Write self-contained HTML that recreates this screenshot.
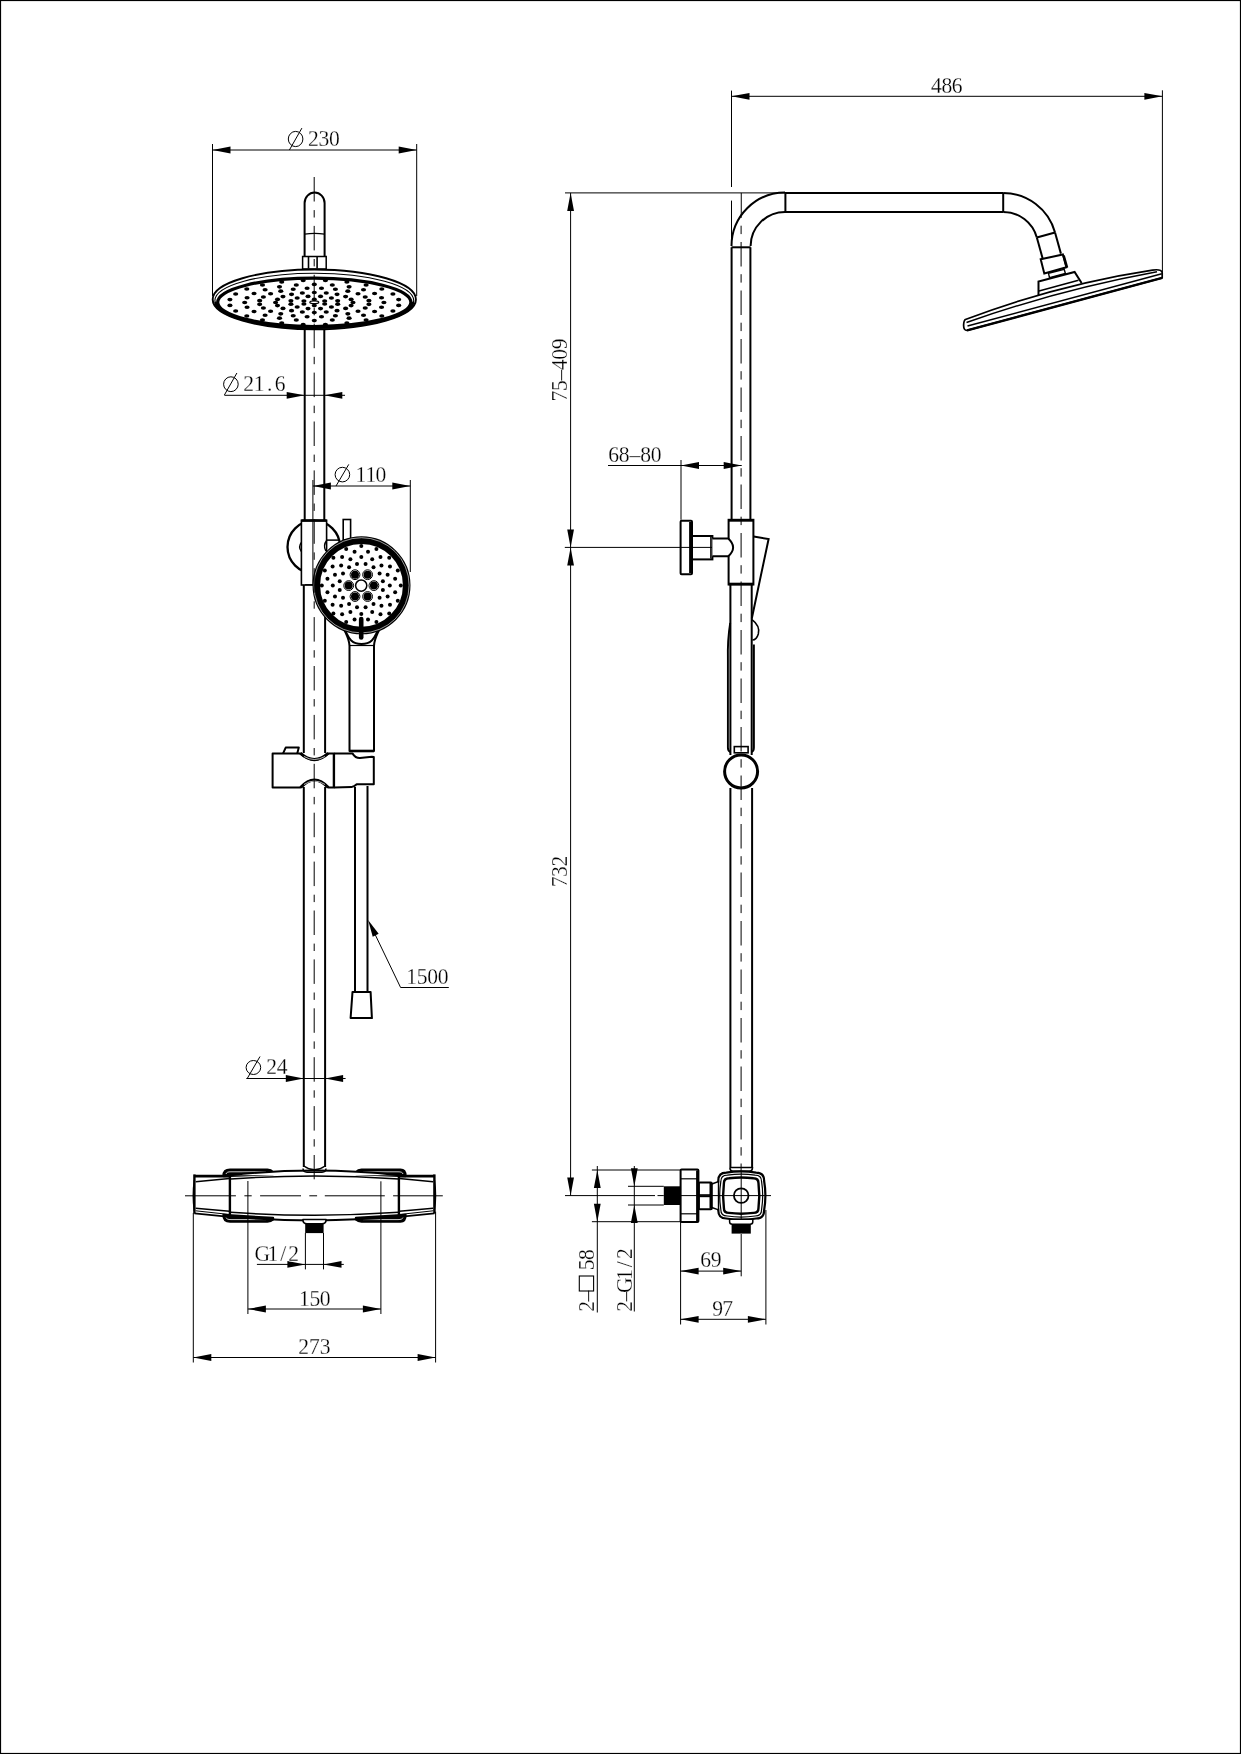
<!DOCTYPE html>
<html><head><meta charset="utf-8"><style>
html,body{margin:0;padding:0;background:#fff;}
svg{display:block;filter:grayscale(100%);}
text{font-family:"Liberation Serif", serif;fill:#000;stroke:#fff;stroke-width:0.25px;}
</style></head><body>
<svg width="1241" height="1754" viewBox="0 0 1241 1754">
<rect width="1241" height="1754" fill="#fff"/>
<rect x="0.55" y="0.55" width="1239.9" height="1752.9" fill="none" stroke="#000" stroke-width="1.1"/>
<line x1="212.5" y1="144" x2="212.5" y2="296" stroke="#000" stroke-width="1.0" />
<line x1="416.7" y1="144" x2="416.7" y2="296" stroke="#000" stroke-width="1.0" />
<line x1="212.5" y1="150" x2="416.7" y2="150" stroke="#000" stroke-width="1.0" />
<path d="M212.5 150 L230.5 146.6 L230.5 153.4 Z" fill="#000"/>
<path d="M416.7 150 L398.7 153.4 L398.7 146.6 Z" fill="#000"/>
<ellipse cx="295.6" cy="139" rx="7.3" ry="7.6" fill="none" stroke="#000" stroke-width="1.0"/>
<line x1="289.4" y1="150" x2="301.9" y2="128.1" stroke="#000" stroke-width="1.0" />
<text x="340.76 352.07 363.37" y="146.3" font-size="23.5" text-anchor="middle" transform="scale(0.92,1)">230</text>
<path d="M304.6 256.5 L304.6 203 A10 10.5 0 0 1 324.6 203 L324.6 256.5" fill="none" stroke="#000" stroke-width="2.0" stroke-linejoin="round" />
<path d="M304.6 234.2 Q314.6 232.4 324.6 234.2" fill="none" stroke="#000" stroke-width="1.3" stroke-linejoin="round" />
<rect x="302.6" y="256.5" width="23.6" height="12.5" rx="0" fill="#fff" stroke="#000" stroke-width="1.5"/>
<line x1="308.5" y1="257" x2="308.5" y2="268.5" stroke="#000" stroke-width="1.6" />
<line x1="317.1" y1="257" x2="317.1" y2="268.5" stroke="#000" stroke-width="1.6" />
<ellipse cx="314.3" cy="299.4" rx="101.6" ry="29.9" fill="#fff" stroke="#000" stroke-width="1.9"/>
<ellipse cx="314.3" cy="300.6" rx="99.4" ry="27.4" fill="none" stroke="#000" stroke-width="1.1"/>
<path d="M215.5 301.8 A98.8 26.0 0 0 0 413.1 301.8" fill="none" stroke="#000" stroke-width="2.4" stroke-linejoin="round" />
<ellipse cx="314.3" cy="302.3" rx="96.6" ry="24.2" fill="none" stroke="#000" stroke-width="3.2"/>
<g fill="#000"><ellipse cx="324.69" cy="304.06" rx="2.6" ry="1.8"/><ellipse cx="314.3" cy="305.62" rx="2.6" ry="1.8"/><ellipse cx="303.91" cy="304.06" rx="2.6" ry="1.8"/><ellipse cx="303.91" cy="300.94" rx="2.6" ry="1.8"/><ellipse cx="314.3" cy="299.38" rx="2.6" ry="1.8"/><ellipse cx="324.69" cy="300.94" rx="2.6" ry="1.8"/><ellipse cx="337.68" cy="304.13" rx="2.6" ry="1.8"/><ellipse cx="331.41" cy="306.95" rx="2.6" ry="1.8"/><ellipse cx="320.56" cy="308.58" rx="2.6" ry="1.8"/><ellipse cx="308.04" cy="308.58" rx="2.6" ry="1.8"/><ellipse cx="297.19" cy="306.95" rx="2.6" ry="1.8"/><ellipse cx="290.92" cy="304.13" rx="2.6" ry="1.8"/><ellipse cx="290.92" cy="300.87" rx="2.6" ry="1.8"/><ellipse cx="297.19" cy="298.05" rx="2.6" ry="1.8"/><ellipse cx="308.04" cy="296.42" rx="2.6" ry="1.8"/><ellipse cx="320.56" cy="296.42" rx="2.6" ry="1.8"/><ellipse cx="331.41" cy="298.05" rx="2.6" ry="1.8"/><ellipse cx="337.68" cy="300.87" rx="2.6" ry="1.8"/><ellipse cx="353" cy="302.5" rx="2.6" ry="1.8"/><ellipse cx="351.11" cy="305.61" rx="2.6" ry="1.8"/><ellipse cx="345.61" cy="308.41" rx="2.6" ry="1.8"/><ellipse cx="337.05" cy="310.64" rx="2.6" ry="1.8"/><ellipse cx="326.26" cy="312.07" rx="2.6" ry="1.8"/><ellipse cx="314.3" cy="312.56" rx="2.6" ry="1.8"/><ellipse cx="302.34" cy="312.07" rx="2.6" ry="1.8"/><ellipse cx="291.55" cy="310.64" rx="2.6" ry="1.8"/><ellipse cx="282.99" cy="308.41" rx="2.6" ry="1.8"/><ellipse cx="277.49" cy="305.61" rx="2.6" ry="1.8"/><ellipse cx="275.6" cy="302.5" rx="2.6" ry="1.8"/><ellipse cx="277.49" cy="299.39" rx="2.6" ry="1.8"/><ellipse cx="282.99" cy="296.59" rx="2.6" ry="1.8"/><ellipse cx="291.55" cy="294.36" rx="2.6" ry="1.8"/><ellipse cx="302.34" cy="292.93" rx="2.6" ry="1.8"/><ellipse cx="314.3" cy="292.44" rx="2.6" ry="1.8"/><ellipse cx="326.26" cy="292.93" rx="2.6" ry="1.8"/><ellipse cx="337.05" cy="294.36" rx="2.6" ry="1.8"/><ellipse cx="345.61" cy="296.59" rx="2.6" ry="1.8"/><ellipse cx="351.11" cy="299.39" rx="2.6" ry="1.8"/><ellipse cx="368.93" cy="304.37" rx="2.6" ry="1.8"/><ellipse cx="365.21" cy="307.98" rx="2.6" ry="1.8"/><ellipse cx="358.01" cy="311.22" rx="2.6" ry="1.8"/><ellipse cx="347.84" cy="313.87" rx="2.6" ry="1.8"/><ellipse cx="335.39" cy="315.74" rx="2.6" ry="1.8"/><ellipse cx="321.49" cy="316.7" rx="2.6" ry="1.8"/><ellipse cx="307.11" cy="316.7" rx="2.6" ry="1.8"/><ellipse cx="293.21" cy="315.74" rx="2.6" ry="1.8"/><ellipse cx="280.76" cy="313.87" rx="2.6" ry="1.8"/><ellipse cx="270.59" cy="311.22" rx="2.6" ry="1.8"/><ellipse cx="263.39" cy="307.98" rx="2.6" ry="1.8"/><ellipse cx="259.67" cy="304.37" rx="2.6" ry="1.8"/><ellipse cx="259.67" cy="300.63" rx="2.6" ry="1.8"/><ellipse cx="263.39" cy="297.02" rx="2.6" ry="1.8"/><ellipse cx="270.59" cy="293.78" rx="2.6" ry="1.8"/><ellipse cx="280.76" cy="291.13" rx="2.6" ry="1.8"/><ellipse cx="293.21" cy="289.26" rx="2.6" ry="1.8"/><ellipse cx="307.11" cy="288.3" rx="2.6" ry="1.8"/><ellipse cx="321.49" cy="288.3" rx="2.6" ry="1.8"/><ellipse cx="335.39" cy="289.26" rx="2.6" ry="1.8"/><ellipse cx="347.84" cy="291.13" rx="2.6" ry="1.8"/><ellipse cx="358.01" cy="293.78" rx="2.6" ry="1.8"/><ellipse cx="365.21" cy="297.02" rx="2.6" ry="1.8"/><ellipse cx="368.93" cy="300.63" rx="2.6" ry="1.8"/><ellipse cx="383.9" cy="302.5" rx="2.6" ry="1.8"/><ellipse cx="381.53" cy="307.18" rx="2.6" ry="1.8"/><ellipse cx="374.58" cy="311.55" rx="2.6" ry="1.8"/><ellipse cx="363.51" cy="315.3" rx="2.6" ry="1.8"/><ellipse cx="349.1" cy="318.17" rx="2.6" ry="1.8"/><ellipse cx="332.31" cy="319.98" rx="2.6" ry="1.8"/><ellipse cx="314.3" cy="320.6" rx="2.6" ry="1.8"/><ellipse cx="296.29" cy="319.98" rx="2.6" ry="1.8"/><ellipse cx="279.5" cy="318.17" rx="2.6" ry="1.8"/><ellipse cx="265.09" cy="315.3" rx="2.6" ry="1.8"/><ellipse cx="254.02" cy="311.55" rx="2.6" ry="1.8"/><ellipse cx="247.07" cy="307.18" rx="2.6" ry="1.8"/><ellipse cx="244.7" cy="302.5" rx="2.6" ry="1.8"/><ellipse cx="247.07" cy="297.82" rx="2.6" ry="1.8"/><ellipse cx="254.02" cy="293.45" rx="2.6" ry="1.8"/><ellipse cx="265.09" cy="289.7" rx="2.6" ry="1.8"/><ellipse cx="279.5" cy="286.83" rx="2.6" ry="1.8"/><ellipse cx="296.29" cy="285.02" rx="2.6" ry="1.8"/><ellipse cx="314.3" cy="284.4" rx="2.6" ry="1.8"/><ellipse cx="332.31" cy="285.02" rx="2.6" ry="1.8"/><ellipse cx="349.1" cy="286.83" rx="2.6" ry="1.8"/><ellipse cx="363.51" cy="289.7" rx="2.6" ry="1.8"/><ellipse cx="374.58" cy="293.45" rx="2.6" ry="1.8"/><ellipse cx="381.53" cy="297.82" rx="2.6" ry="1.8"/><ellipse cx="398.67" cy="305.39" rx="2.6" ry="1.8"/><ellipse cx="392.92" cy="310.97" rx="2.6" ry="1.8"/><ellipse cx="381.81" cy="315.97" rx="2.6" ry="1.8"/><ellipse cx="366.11" cy="320.05" rx="2.6" ry="1.8"/><ellipse cx="346.87" cy="322.94" rx="2.6" ry="1.8"/><ellipse cx="325.41" cy="324.44" rx="2.6" ry="1.8"/><ellipse cx="303.19" cy="324.44" rx="2.6" ry="1.8"/><ellipse cx="281.73" cy="322.94" rx="2.6" ry="1.8"/><ellipse cx="262.49" cy="320.05" rx="2.6" ry="1.8"/><ellipse cx="246.79" cy="315.97" rx="2.6" ry="1.8"/><ellipse cx="235.68" cy="310.97" rx="2.6" ry="1.8"/><ellipse cx="229.93" cy="305.39" rx="2.6" ry="1.8"/><ellipse cx="229.93" cy="299.61" rx="2.6" ry="1.8"/><ellipse cx="235.68" cy="294.03" rx="2.6" ry="1.8"/><ellipse cx="246.79" cy="289.03" rx="2.6" ry="1.8"/><ellipse cx="262.49" cy="284.95" rx="2.6" ry="1.8"/><ellipse cx="281.73" cy="282.06" rx="2.6" ry="1.8"/><ellipse cx="303.19" cy="280.56" rx="2.6" ry="1.8"/><ellipse cx="325.41" cy="280.56" rx="2.6" ry="1.8"/><ellipse cx="346.87" cy="282.06" rx="2.6" ry="1.8"/><ellipse cx="366.11" cy="284.95" rx="2.6" ry="1.8"/><ellipse cx="381.81" cy="289.03" rx="2.6" ry="1.8"/><ellipse cx="392.92" cy="294.03" rx="2.6" ry="1.8"/><ellipse cx="398.67" cy="299.61" rx="2.6" ry="1.8"/></g>
<ellipse cx="314.3" cy="302.3" rx="4.5" ry="1.4" fill="none" stroke="#000" stroke-width="1.2"/>
<line x1="304.7" y1="330" x2="304.7" y2="520" stroke="#000" stroke-width="2.0" />
<line x1="324.3" y1="330" x2="324.3" y2="520" stroke="#000" stroke-width="2.0" />
<line x1="303.8" y1="585" x2="303.8" y2="753" stroke="#000" stroke-width="2.0" />
<line x1="325.1" y1="585" x2="325.1" y2="753" stroke="#000" stroke-width="2.0" />
<line x1="303.8" y1="787" x2="303.8" y2="1167" stroke="#000" stroke-width="2.0" />
<line x1="325.1" y1="787" x2="325.1" y2="1167" stroke="#000" stroke-width="2.0" />
<path d="M303.8 1166 Q314.5 1173.5 325.1 1166" fill="none" stroke="#000" stroke-width="1.3" stroke-linejoin="round" />
<line x1="224.4" y1="395.3" x2="345" y2="395.3" stroke="#000" stroke-width="1.0" />
<path d="M304.7 395.3 L286.7 398.7 L286.7 391.9 Z" fill="#000"/>
<path d="M324.3 395.3 L342.3 391.9 L342.3 398.7 Z" fill="#000"/>
<ellipse cx="230.9" cy="384.2" rx="7.3" ry="7.4" fill="none" stroke="#000" stroke-width="1.0"/>
<line x1="224.4" y1="395" x2="236.9" y2="373" stroke="#000" stroke-width="1.0" />
<text x="270.19 281.66 293.12 304.59" y="391.5" font-size="23.5" text-anchor="middle" transform="scale(0.92,1)">21.6</text>
<circle cx="313.8" cy="547" r="26.3" fill="#fff" stroke="#000" stroke-width="2.3"/>
<rect x="301.4" y="520.3" width="25.2" height="64.7" rx="0" fill="#fff" stroke="#000" stroke-width="1.6"/>
<line x1="301.4" y1="520.6" x2="326.6" y2="520.6" stroke="#000" stroke-width="2.6" />
<path d="M301.4 542.5 Q297.8 547 301.4 551.5" fill="none" stroke="#000" stroke-width="1.4" stroke-linejoin="round" />
<path d="M326.6 540.5 Q322.8 545.5 325.8 551" fill="none" stroke="#000" stroke-width="1.4" stroke-linejoin="round" />
<line x1="326.6" y1="540.1" x2="338.8" y2="540.1" stroke="#000" stroke-width="1.5" />
<rect x="343.2" y="519.5" width="7.4" height="20.5" rx="0" fill="#fff" stroke="#000" stroke-width="1.6"/>
<line x1="312.9" y1="480" x2="312.9" y2="585" stroke="#000" stroke-width="1.0" />
<line x1="410.3" y1="480" x2="410.3" y2="572" stroke="#000" stroke-width="1.0" />
<line x1="312.9" y1="486" x2="410.3" y2="486" stroke="#000" stroke-width="1.0" />
<path d="M312.9 486 L330.9 482.6 L330.9 489.4 Z" fill="#000"/>
<path d="M410.3 486 L392.3 489.4 L392.3 482.6 Z" fill="#000"/>
<ellipse cx="342.4" cy="474.6" rx="7.3" ry="7.3" fill="none" stroke="#000" stroke-width="1.0"/>
<line x1="336" y1="486" x2="348.75" y2="464.4" stroke="#000" stroke-width="1.0" />
<text x="392.21 403.15 414.09" y="481.9" font-size="23.5" text-anchor="middle" transform="scale(0.92,1)">110</text>
<line x1="305" y1="584.7" x2="313" y2="584.7" stroke="#000" stroke-width="1.2" />
<path d="M344 629 C347 636 349.5 640 349.5 646 L349.5 751 L374 751 L374 646 C374 640 376.5 636 379.5 629 Z" fill="#fff" stroke="#000" stroke-width="2.0" stroke-linejoin="round" />
<line x1="349.5" y1="751" x2="374" y2="751" stroke="#000" stroke-width="2.6" />
<path d="M344.5 629.5 C348 635 349 644 361.5 644 C374 644 375 635 378.5 629.5" fill="none" stroke="#000" stroke-width="2.0" stroke-linejoin="round" />
<line x1="349.5" y1="645.5" x2="374" y2="645.5" stroke="#000" stroke-width="1.2" />
<circle cx="361.5" cy="585.3" r="45.2" fill="#fff" stroke="#000" stroke-width="7.6"/>
<circle cx="361.5" cy="585.3" r="47.6" fill="none" stroke="#fff" stroke-width="0.6"/>
<g fill="#000"><circle cx="365.59" cy="564.02" r="2.0"/><circle cx="373.52" cy="567.31" r="2.0"/><circle cx="379.59" cy="573.38" r="2.0"/><circle cx="382.88" cy="581.31" r="2.0"/><circle cx="382.88" cy="589.89" r="2.0"/><circle cx="379.59" cy="597.82" r="2.0"/><circle cx="373.52" cy="603.89" r="2.0"/><circle cx="365.59" cy="607.18" r="2.0"/><circle cx="357.01" cy="607.18" r="2.0"/><circle cx="349.08" cy="603.89" r="2.0"/><circle cx="343.01" cy="597.82" r="2.0"/><circle cx="339.72" cy="589.89" r="2.0"/><circle cx="339.72" cy="581.31" r="2.0"/><circle cx="343.01" cy="573.38" r="2.0"/><circle cx="349.08" cy="567.31" r="2.0"/><circle cx="357.01" cy="564.02" r="2.0"/><circle cx="361.3" cy="557.1" r="2.0"/><circle cx="372.21" cy="559.27" r="2.0"/><circle cx="381.45" cy="565.45" r="2.0"/><circle cx="387.63" cy="574.69" r="2.0"/><circle cx="389.8" cy="585.6" r="2.0"/><circle cx="387.63" cy="596.51" r="2.0"/><circle cx="381.45" cy="605.75" r="2.0"/><circle cx="372.21" cy="611.93" r="2.0"/><circle cx="361.3" cy="614.1" r="2.0"/><circle cx="350.39" cy="611.93" r="2.0"/><circle cx="341.15" cy="605.75" r="2.0"/><circle cx="334.97" cy="596.51" r="2.0"/><circle cx="332.8" cy="585.6" r="2.0"/><circle cx="334.97" cy="574.69" r="2.0"/><circle cx="341.15" cy="565.45" r="2.0"/><circle cx="350.39" cy="559.27" r="2.0"/><circle cx="368.03" cy="551.76" r="2.0"/><circle cx="380.47" cy="556.91" r="2.0"/><circle cx="389.99" cy="566.43" r="2.0"/><circle cx="395.14" cy="578.87" r="2.0"/><circle cx="395.14" cy="592.33" r="2.0"/><circle cx="389.99" cy="604.77" r="2.0"/><circle cx="380.47" cy="614.29" r="2.0"/><circle cx="368.03" cy="619.44" r="2.0"/><circle cx="354.57" cy="619.44" r="2.0"/><circle cx="342.13" cy="614.29" r="2.0"/><circle cx="332.61" cy="604.77" r="2.0"/><circle cx="327.46" cy="592.33" r="2.0"/><circle cx="327.46" cy="578.87" r="2.0"/><circle cx="332.61" cy="566.43" r="2.0"/><circle cx="342.13" cy="556.91" r="2.0"/><circle cx="354.57" cy="551.76" r="2.0"/><circle cx="361.3" cy="546.1" r="2.0"/><circle cx="376.42" cy="549.11" r="2.0"/><circle cx="389.23" cy="557.67" r="2.0"/><circle cx="397.79" cy="570.48" r="2.0"/><circle cx="400.8" cy="585.6" r="2.0"/><circle cx="397.79" cy="600.72" r="2.0"/><circle cx="389.23" cy="613.53" r="2.0"/><circle cx="376.42" cy="622.09" r="2.0"/><circle cx="346.18" cy="622.09" r="2.0"/><circle cx="333.37" cy="613.53" r="2.0"/><circle cx="324.81" cy="600.72" r="2.0"/><circle cx="321.8" cy="585.6" r="2.0"/><circle cx="324.81" cy="570.48" r="2.0"/><circle cx="333.37" cy="557.67" r="2.0"/><circle cx="346.18" cy="549.11" r="2.0"/></g>
<circle cx="373.9" cy="585.6" r="4.9" fill="#fff" stroke="#000" stroke-width="1.0"/>
<circle cx="373.9" cy="585.6" r="4" fill="#000" stroke="#000" stroke-width="0"/>
<circle cx="367.6" cy="596.51" r="4.9" fill="#fff" stroke="#000" stroke-width="1.0"/>
<circle cx="367.6" cy="596.51" r="4" fill="#000" stroke="#000" stroke-width="0"/>
<circle cx="355" cy="596.51" r="4.9" fill="#fff" stroke="#000" stroke-width="1.0"/>
<circle cx="355" cy="596.51" r="4" fill="#000" stroke="#000" stroke-width="0"/>
<circle cx="348.7" cy="585.6" r="4.9" fill="#fff" stroke="#000" stroke-width="1.0"/>
<circle cx="348.7" cy="585.6" r="4" fill="#000" stroke="#000" stroke-width="0"/>
<circle cx="355" cy="574.69" r="4.9" fill="#fff" stroke="#000" stroke-width="1.0"/>
<circle cx="355" cy="574.69" r="4" fill="#000" stroke="#000" stroke-width="0"/>
<circle cx="367.6" cy="574.69" r="4.9" fill="#fff" stroke="#000" stroke-width="1.0"/>
<circle cx="367.6" cy="574.69" r="4" fill="#000" stroke="#000" stroke-width="0"/>
<circle cx="361.2" cy="585.6" r="5.6" fill="#fff" stroke="#000" stroke-width="1.5"/>
<line x1="361.2" y1="619" x2="361.2" y2="637.5" stroke="#000" stroke-width="4.6" stroke-linecap="round"/>
<path d="M272.6 753.6 L300.3 753.6 Q314.4 766 328.3 753.6 L333.8 753.6 L333.8 787.4 L328.3 787.4 Q314.4 772.4 300.6 787.4 L272.6 787.4 Z" fill="#fff" stroke="#000" stroke-width="2.0" stroke-linejoin="round" />
<path d="M300.3 753.2 Q314.4 766 328.3 753.2" fill="none" stroke="#000" stroke-width="3.0" stroke-linejoin="round" />
<path d="M300.6 787.6 Q314.4 772.4 328.3 787.6" fill="none" stroke="#000" stroke-width="3.0" stroke-linejoin="round" />
<path d="M304 756.5 Q314.4 762.5 325 756.5" fill="none" stroke="#fff" stroke-width="0.7" stroke-linejoin="round" />
<path d="M304 784.5 Q314.4 777.5 325 784.5" fill="none" stroke="#fff" stroke-width="0.7" stroke-linejoin="round" />
<path d="M283.1 753.4 L285.7 747.6 L298.8 747.6 L297.3 753.2" fill="none" stroke="#000" stroke-width="2.0" stroke-linejoin="round" />
<path d="M334 753.6 L352.6 753.6 Q355.5 758.2 360 758 L371.8 756.7 L373.8 757 L373.8 784.3 L356.7 784.3 Q354 786.9 351.6 786.9 L334 787.4" fill="#fff" stroke="#000" stroke-width="2.0" stroke-linejoin="round" />
<line x1="334" y1="753.6" x2="334" y2="787.4" stroke="#000" stroke-width="2.2" />
<line x1="355" y1="787" x2="355" y2="991.5" stroke="#000" stroke-width="2.0" />
<line x1="367.5" y1="786" x2="367.5" y2="991.5" stroke="#000" stroke-width="2.0" />
<path d="M352.5 991.9 L370.6 991.9 L371.9 1018.1 L350.6 1018.1 Z" fill="#fff" stroke="#000" stroke-width="2.0" stroke-linejoin="round" />
<path d="M368.1 920 L378.65 933.73 L372.75 936.68 Z" fill="#000"/>
<path d="M372 928 L400.6 987.5 L448.8 987.5" fill="none" stroke="#000" stroke-width="1.0" stroke-linejoin="round" />
<text x="447.55 458.97 470.38 481.79" y="983.8" font-size="23.5" text-anchor="middle" transform="scale(0.92,1)">1500</text>
<line x1="246.3" y1="1078.5" x2="345.6" y2="1078.5" stroke="#000" stroke-width="1.0" />
<path d="M303.8 1078.5 L285.8 1081.9 L285.8 1075.1 Z" fill="#000"/>
<path d="M325.1 1078.5 L343.1 1075.1 L343.1 1081.9 Z" fill="#000"/>
<ellipse cx="253.4" cy="1067.5" rx="7.3" ry="7" fill="none" stroke="#000" stroke-width="1.0"/>
<line x1="247.5" y1="1078" x2="260" y2="1056.5" stroke="#000" stroke-width="1.0" />
<text x="295.38 306.79" y="1074.4" font-size="23.5" text-anchor="middle" transform="scale(0.92,1)">24</text>
<path d="M223.5 1176 C223.5 1171 226 1169.8 230 1169.8 L267.5 1169.8 C270 1169.8 271.5 1170.5 273 1172.3 L273 1174 L223.5 1176 Z" fill="#000" stroke="#000" stroke-width="2.4" stroke-linejoin="round" />
<path d="M356 1172.3 C357.5 1170.5 359 1169.8 361.5 1169.8 L400.5 1169.8 C403 1169.8 405.5 1171 405.5 1176 L356 1174 Z" fill="#000" stroke="#000" stroke-width="2.4" stroke-linejoin="round" />
<path d="M223.5 1215 C223.5 1220 226 1221.6 230 1221.6 L267.5 1221.6 C270 1221.6 271.5 1221 273 1219.5 L273 1218 L223.5 1215 Z" fill="#000" stroke="#000" stroke-width="2.4" stroke-linejoin="round" />
<path d="M356 1219.5 C357.5 1221 359 1221.6 361.5 1221.6 L400.5 1221.6 C403 1221.6 405.5 1220 405.5 1215 L356 1218 Z" fill="#000" stroke="#000" stroke-width="2.4" stroke-linejoin="round" />
<path d="M226 1174 C226.5 1172.3 228 1171.8 231 1171.8 L266 1171.8" fill="none" stroke="#fff" stroke-width="0.8" stroke-linejoin="round" />
<path d="M363 1171.8 L398 1171.8 C401 1171.8 402.5 1172.3 403 1174" fill="none" stroke="#fff" stroke-width="0.8" stroke-linejoin="round" />
<path d="M226 1217.4 C226.5 1219 228 1219.6 231 1219.6 L266 1219.6" fill="none" stroke="#fff" stroke-width="0.8" stroke-linejoin="round" />
<path d="M363 1219.6 L398 1219.6 C401 1219.6 402.5 1219 403 1217.4" fill="none" stroke="#fff" stroke-width="0.8" stroke-linejoin="round" />
<path d="M230.7 1175.2 Q314.6 1166 398.75 1175.2" fill="#fff" stroke="#000" stroke-width="2.0" stroke-linejoin="round" />
<path d="M230.7 1179 Q314.6 1172.8 398.75 1179" fill="none" stroke="#000" stroke-width="1.5" stroke-linejoin="round" />
<path d="M230.7 1212.3 Q314.6 1218.1 398.75 1212.3" fill="none" stroke="#000" stroke-width="1.5" stroke-linejoin="round" />
<path d="M230.7 1216.6 Q314.6 1224.2 398.75 1216.6" fill="none" stroke="#000" stroke-width="2.0" stroke-linejoin="round" />
<line x1="194.4" y1="1174.4" x2="194.4" y2="1213.6" stroke="#000" stroke-width="2.4" />
<line x1="229.9" y1="1175.3" x2="229.9" y2="1216.8" stroke="#000" stroke-width="2.4" />
<line x1="194.4" y1="1176.1" x2="229.9" y2="1176.1" stroke="#000" stroke-width="2.8" />
<line x1="195.7" y1="1181.8" x2="229.5" y2="1178.5" stroke="#000" stroke-width="1.5" />
<line x1="195.7" y1="1208.3" x2="229.5" y2="1211.2" stroke="#000" stroke-width="1.5" />
<line x1="195.7" y1="1210.8" x2="229.5" y2="1214.5" stroke="#000" stroke-width="1.0" />
<line x1="194.4" y1="1213.3" x2="229.5" y2="1216.8" stroke="#000" stroke-width="1.8" />
<line x1="434.4" y1="1174.4" x2="434.4" y2="1213.6" stroke="#000" stroke-width="2.4" />
<line x1="398.9" y1="1175.3" x2="398.9" y2="1216.8" stroke="#000" stroke-width="2.4" />
<line x1="434.4" y1="1176.1" x2="398.9" y2="1176.1" stroke="#000" stroke-width="2.8" />
<line x1="433.1" y1="1181.8" x2="399.3" y2="1178.5" stroke="#000" stroke-width="1.5" />
<line x1="433.1" y1="1208.3" x2="399.3" y2="1211.2" stroke="#000" stroke-width="1.5" />
<line x1="433.1" y1="1210.8" x2="399.3" y2="1214.5" stroke="#000" stroke-width="1.0" />
<line x1="434.4" y1="1213.3" x2="399.3" y2="1216.8" stroke="#000" stroke-width="1.8" />
<path d="M194.4 1180 Q192.2 1195.6 194.4 1211" fill="none" stroke="#000" stroke-width="1.5" stroke-linejoin="round" />
<path d="M434.4 1180 Q436.6 1195.6 434.4 1211" fill="none" stroke="#000" stroke-width="1.5" stroke-linejoin="round" />
<path d="M302.9 1219.5 L326.1 1219.5 Q326.1 1223.8 322 1223.8 L307 1223.8 Q302.9 1223.8 302.9 1219.5 Z" fill="#fff" stroke="#000" stroke-width="1.6" stroke-linejoin="round" />
<rect x="305.2" y="1224" width="18.4" height="9.1" rx="0" fill="#000" stroke="#000" stroke-width="0"/>
<path d="M303.0 1168.6 Q303.0 1172.2 307 1172.2 L322 1172.2 Q326 1172.2 326 1168.6" fill="none" stroke="#000" stroke-width="1.5" stroke-linejoin="round" />
<line x1="185" y1="1195.8" x2="235.9" y2="1195.8" stroke="#000" stroke-width="1.0" />
<line x1="244.4" y1="1195.8" x2="251.7" y2="1195.8" stroke="#000" stroke-width="1.0" />
<line x1="260.1" y1="1195.8" x2="301" y2="1195.8" stroke="#000" stroke-width="1.0" />
<line x1="309.3" y1="1195.8" x2="317.1" y2="1195.8" stroke="#000" stroke-width="1.0" />
<line x1="324.8" y1="1195.8" x2="384.8" y2="1195.8" stroke="#000" stroke-width="1.0" />
<line x1="393.1" y1="1195.8" x2="442.8" y2="1195.8" stroke="#000" stroke-width="1.0" />
<line x1="314.2" y1="1160" x2="314.2" y2="1179.3" stroke="#000" stroke-width="1.0" />
<line x1="305.4" y1="1233" x2="305.4" y2="1269.4" stroke="#000" stroke-width="1.0" />
<line x1="323.5" y1="1233" x2="323.5" y2="1269.4" stroke="#000" stroke-width="1.0" />
<line x1="256.9" y1="1264.4" x2="343.8" y2="1264.4" stroke="#000" stroke-width="1.0" />
<path d="M305.4 1264.4 L287.4 1267.8 L287.4 1261 Z" fill="#000"/>
<path d="M323.5 1264.4 L341.5 1261 L341.5 1267.8 Z" fill="#000"/>
<text x="285.24 296.6 307.96 319.32" y="1260.6" font-size="23.5" text-anchor="middle" transform="scale(0.92,1)">G1/2</text>
<line x1="247.9" y1="1181" x2="247.9" y2="1314" stroke="#000" stroke-width="1.0" />
<line x1="380.9" y1="1181.3" x2="380.9" y2="1314" stroke="#000" stroke-width="1.0" />
<line x1="247.9" y1="1309" x2="380.9" y2="1309" stroke="#000" stroke-width="1.0" />
<path d="M247.9 1309 L265.9 1305.6 L265.9 1312.4 Z" fill="#000"/>
<path d="M380.9 1309 L362.9 1312.4 L362.9 1305.6 Z" fill="#000"/>
<text x="330.87 342.17 353.48" y="1305.6" font-size="23.5" text-anchor="middle" transform="scale(0.92,1)">150</text>
<line x1="193.3" y1="1213" x2="193.3" y2="1362.5" stroke="#000" stroke-width="1.0" />
<line x1="435.6" y1="1211.6" x2="435.6" y2="1362.5" stroke="#000" stroke-width="1.0" />
<line x1="193.3" y1="1357.5" x2="435.6" y2="1357.5" stroke="#000" stroke-width="1.0" />
<path d="M193.3 1357.5 L211.3 1354.1 L211.3 1360.9 Z" fill="#000"/>
<path d="M435.6 1357.5 L417.6 1360.9 L417.6 1354.1 Z" fill="#000"/>
<text x="329.96 341.63 353.3" y="1354" font-size="23.5" text-anchor="middle" transform="scale(0.92,1)">273</text>
<line x1="314.2" y1="177" x2="314.2" y2="1160" stroke="#000" stroke-width="1.0" stroke-dasharray="24.5 8.6 7.4 8.4" stroke-dashoffset="48.9"/>
<line x1="731.5" y1="90.6" x2="731.5" y2="187" stroke="#000" stroke-width="1.0" />
<line x1="731.5" y1="200.6" x2="731.5" y2="246" stroke="#000" stroke-width="1.0" />
<line x1="1162.4" y1="90.3" x2="1162.4" y2="277" stroke="#000" stroke-width="1.0" />
<line x1="731.5" y1="96.3" x2="1162.4" y2="96.3" stroke="#000" stroke-width="1.0" />
<path d="M731.5 96.3 L749.5 92.9 L749.5 99.7 Z" fill="#000"/>
<path d="M1162.4 96.3 L1144.4 99.7 L1144.4 92.9 Z" fill="#000"/>
<text x="1017.83 1029.13 1040.43" y="93.2" font-size="23.5" text-anchor="middle" transform="scale(0.92,1)">486</text>
<line x1="565" y1="192.9" x2="785" y2="192.9" stroke="#000" stroke-width="1.0" />
<line x1="741.25" y1="192.9" x2="741.25" y2="213.7" stroke="#000" stroke-width="1.0" />
<path d="M731.5 246 A53.5 53.5 0 0 1 785 192.5" fill="none" stroke="#000" stroke-width="2.0" stroke-linejoin="round" />
<path d="M750.6 246 A34.5 34.5 0 0 1 785 211.9" fill="none" stroke="#000" stroke-width="2.0" stroke-linejoin="round" />
<line x1="731.5" y1="247.3" x2="750.6" y2="247.3" stroke="#000" stroke-width="2.0" />
<line x1="785.4" y1="192.8" x2="785.4" y2="212" stroke="#000" stroke-width="2.0" />
<line x1="785" y1="193" x2="1003.2" y2="193" stroke="#000" stroke-width="2.0" />
<line x1="785" y1="212" x2="1003.2" y2="212" stroke="#000" stroke-width="2.0" />
<line x1="1003.2" y1="193" x2="1003.2" y2="212" stroke="#000" stroke-width="2.0" />
<path d="M1003.2 193 A53.8 53.8 0 0 1 1055.04 232.42" fill="none" stroke="#000" stroke-width="2.0" stroke-linejoin="round" />
<path d="M1003.2 211.9 A34.9 34.9 0 0 1 1036.83 237.47" fill="none" stroke="#000" stroke-width="2.0" stroke-linejoin="round" />
<line x1="1036.83" y1="237.47" x2="1055.04" y2="232.42" stroke="#000" stroke-width="2.0" />
<line x1="1036.83" y1="237.47" x2="1042.71" y2="258.67" stroke="#000" stroke-width="2.0" />
<line x1="1055.04" y1="232.42" x2="1060.92" y2="253.62" stroke="#000" stroke-width="2.0" />
<path d="M1040.7 259.3 L1062.9 254.5 L1066.4 267.3 L1044.3 273.5 Z" fill="#fff" stroke="#000" stroke-width="2.0" />
<line x1="1063.6" y1="255.5" x2="1067" y2="267.5" stroke="#000" stroke-width="2.6" />
<path d="M1048.5 273.3 L1064.2 269.4 L1065.4 273.5 L1049.5 277.6 Z" fill="#fff" stroke="#000" stroke-width="1.4" />
<path d="M1038.5 295.5 L1038.5 281.6 L1074.6 272 L1081.6 283" fill="#fff" stroke="#000" stroke-width="2.0" />
<line x1="1039" y1="291" x2="1078.5" y2="280.2" stroke="#000" stroke-width="1.5" />
<path d="M965.4 319.5 Q1059 284.2 1152.5 270.1 Q1161 268.8 1162.2 272.5 L1162.2 277.9 L967.1 330.4 Q963.5 330.5 963.6 325 Q963.8 320.5 965.4 319.5 Z" fill="#fff" stroke="#000" stroke-width="1.7" stroke-linejoin="round" />
<path d="M966.5 322.5 Q1059 289.8 1157 271.8" fill="none" stroke="#000" stroke-width="1.5" stroke-linejoin="round" />
<line x1="967.5" y1="326" x2="1161.8" y2="273.8" stroke="#000" stroke-width="1.5" />
<line x1="967.1" y1="330.4" x2="1162.2" y2="277.9" stroke="#000" stroke-width="2.4" />
<line x1="731.6" y1="247.3" x2="731.6" y2="519.8" stroke="#000" stroke-width="2.0" />
<line x1="750.4" y1="247.3" x2="750.4" y2="519.8" stroke="#000" stroke-width="2.0" />
<rect x="680.6" y="520.8" width="11.4" height="53.4" rx="1" fill="#fff" stroke="#000" stroke-width="2.0"/>
<line x1="690.3" y1="522" x2="690.3" y2="573" stroke="#000" stroke-width="2.4" />
<rect x="692" y="536" width="20.4" height="23.4" rx="0" fill="#fff" stroke="#000" stroke-width="2.0"/>
<line x1="710.8" y1="537" x2="710.8" y2="558.5" stroke="#000" stroke-width="1.3" />
<line x1="681" y1="460" x2="681" y2="519.8" stroke="#000" stroke-width="1.0" />
<line x1="608" y1="465.5" x2="741.7" y2="465.5" stroke="#000" stroke-width="1.0" />
<path d="M681 465.5 L699 462.1 L699 468.9 Z" fill="#000"/>
<path d="M741.7 465.5 L723.7 468.9 L723.7 462.1 Z" fill="#000"/>
<text x="666.89 678.5 690.11 701.72 713.33" y="461.9" font-size="23.5" text-anchor="middle" transform="scale(0.92,1)">68–80</text>
<line x1="570.6" y1="192.9" x2="570.6" y2="1195.6" stroke="#000" stroke-width="1.0" />
<path d="M570.6 192.9 L574 210.9 L567.2 210.9 Z" fill="#000"/>
<path d="M570.6 547.4 L567.2 529.4 L574 529.4 Z" fill="#000"/>
<path d="M570.6 547.4 L574 565.4 L567.2 565.4 Z" fill="#000"/>
<path d="M570.6 1195.6 L567.2 1177.6 L574 1177.6 Z" fill="#000"/>
<line x1="564.8" y1="547.4" x2="722.9" y2="547.4" stroke="#000" stroke-width="1.0" />
<text x="-430.62 -419.24 -407.86 -396.49 -385.11 -373.73" y="566.9" font-size="23.5" text-anchor="middle" transform="rotate(-90) scale(0.92,1)">75–409</text>
<text x="-958.66 -947.28 -935.91" y="567.2" font-size="23.5" text-anchor="middle" transform="rotate(-90) scale(0.92,1)">732</text>
<rect x="728.6" y="519.8" width="24.8" height="64.7" rx="0" fill="#fff" stroke="#000" stroke-width="2.0"/>
<line x1="728.6" y1="520.4" x2="753.4" y2="520.4" stroke="#000" stroke-width="2.6" />
<line x1="728.6" y1="584" x2="753.4" y2="584" stroke="#000" stroke-width="2.6" />
<path d="M712.4 538.6 L728.2 538.6 Q738 547.4 728.2 556.3 L712.4 556.3" fill="#fff" stroke="#000" stroke-width="2.0" stroke-linejoin="round" />
<path d="M753.6 536.5 L768.6 539 L751.8 618.5" fill="none" stroke="#000" stroke-width="2.0" />
<line x1="730.4" y1="584.5" x2="730.4" y2="755" stroke="#000" stroke-width="2.0" />
<line x1="751.7" y1="584.5" x2="751.7" y2="755" stroke="#000" stroke-width="2.0" />
<path d="M730.2 623 Q727.4 640 727.9 660 L727.9 747.5 Q727.9 751 730.4 752" fill="none" stroke="#000" stroke-width="1.9" stroke-linejoin="round" />
<path d="M753.9 644.5 L753.9 747.5 Q753.9 751 751.7 752" fill="none" stroke="#000" stroke-width="1.9" stroke-linejoin="round" />
<path d="M752 619.6 Q760.5 626 758.3 634 Q756.5 640 752.5 640" fill="none" stroke="#000" stroke-width="1.6" stroke-linejoin="round" />
<circle cx="741.1" cy="771.4" r="16.5" fill="#fff" stroke="#000" stroke-width="3.0"/>
<rect x="734.3" y="746.6" width="13.8" height="6.2" rx="0" fill="#fff" stroke="#000" stroke-width="1.6"/>
<line x1="730.4" y1="788" x2="730.4" y2="1167.5" stroke="#000" stroke-width="2.0" />
<line x1="752.1" y1="788" x2="752.1" y2="1167.5" stroke="#000" stroke-width="2.0" />
<path d="M729.9 1167.5 L752.5 1167.5 Q752.5 1171.2 749 1171.2 L733.4 1171.2 Q729.9 1171.2 729.9 1167.5" fill="none" stroke="#000" stroke-width="1.6" stroke-linejoin="round" />
<path d="M726.3 1172.7 Q741.2 1170.1 756.1 1172.7 Q764.1 1172.7 764.1 1180.7 Q766.7 1195.6 764.1 1210.5 Q764.1 1218.5 756.1 1218.5 Q741.2 1221.1 726.3 1218.5 Q718.3 1218.5 718.3 1210.5 Q715.7 1195.6 718.3 1180.7 Q718.3 1172.7 726.3 1172.7 Z" fill="#fff" stroke="#000" stroke-width="2.2" stroke-linejoin="round" />
<path d="M727.3 1175.2 Q741.2 1173 755.1 1175.2 Q761.6 1175.2 761.6 1181.7 Q763.8 1195.6 761.6 1209.5 Q761.6 1216 755.1 1216 Q741.2 1218.2 727.3 1216 Q720.8 1216 720.8 1209.5 Q718.6 1195.6 720.8 1181.7 Q720.8 1175.2 727.3 1175.2 Z" fill="none" stroke="#000" stroke-width="1.2" stroke-linejoin="round" />
<path d="M728.9 1178.3 Q741.2 1176.7 753.5 1178.3 Q758.5 1178.3 758.5 1183.3 Q760.1 1195.6 758.5 1207.9 Q758.5 1212.9 753.5 1212.9 Q741.2 1214.5 728.9 1212.9 Q723.9 1212.9 723.9 1207.9 Q722.3 1195.6 723.9 1183.3 Q723.9 1178.3 728.9 1178.3 Z" fill="none" stroke="#000" stroke-width="2.4" stroke-linejoin="round" />
<circle cx="741.2" cy="1195.6" r="7.3" fill="none" stroke="#000" stroke-width="1.8"/>
<path d="M729.6 1219.3 L752.8 1219.3 L752.8 1222 Q752.8 1224.2 750 1224.2 L732.4 1224.2 Q729.6 1224.2 729.6 1222 Z" fill="#fff" stroke="#000" stroke-width="1.5" stroke-linejoin="round" />
<rect x="731.6" y="1224.2" width="19.2" height="9.4" rx="0" fill="#000" stroke="#000" stroke-width="0"/>
<path d="M711.8 1184 L718.5 1181.5 L718.5 1209.8 L711.8 1207.5" fill="#fff" stroke="#000" stroke-width="1.4" />
<rect x="698.9" y="1182.4" width="12.9" height="26.8" rx="1" fill="#fff" stroke="#000" stroke-width="2.0"/>
<line x1="698.9" y1="1194.8" x2="711.8" y2="1194.8" stroke="#000" stroke-width="1.2" />
<line x1="698.9" y1="1196.6" x2="711.8" y2="1196.6" stroke="#000" stroke-width="1.2" />
<line x1="710.5" y1="1183" x2="710.5" y2="1208.6" stroke="#000" stroke-width="2.0" />
<rect x="680.6" y="1169.6" width="17.8" height="52.4" rx="1" fill="#fff" stroke="#000" stroke-width="2.0"/>
<line x1="680.6" y1="1178.8" x2="698.4" y2="1178.8" stroke="#000" stroke-width="1.2" />
<line x1="680.6" y1="1213.8" x2="698.4" y2="1213.8" stroke="#000" stroke-width="1.2" />
<line x1="697.2" y1="1170.5" x2="697.2" y2="1221" stroke="#000" stroke-width="2.2" />
<rect x="663.8" y="1186.3" width="16.8" height="18.7" rx="0" fill="#000" stroke="#000" stroke-width="0"/>
<line x1="565" y1="1195.6" x2="655" y2="1195.6" stroke="#000" stroke-width="1.0" />
<line x1="657.5" y1="1195.6" x2="663.8" y2="1195.6" stroke="#000" stroke-width="1.0" />
<line x1="680.6" y1="1195.6" x2="771" y2="1195.6" stroke="#000" stroke-width="1.0" />
<line x1="741.2" y1="1172" x2="741.2" y2="1219" stroke="#000" stroke-width="1.0" />
<line x1="591.9" y1="1170" x2="680.6" y2="1170" stroke="#000" stroke-width="1.0" />
<line x1="591.9" y1="1221.7" x2="680.6" y2="1221.7" stroke="#000" stroke-width="1.0" />
<line x1="628" y1="1186.3" x2="663.8" y2="1186.3" stroke="#000" stroke-width="1.0" />
<line x1="628" y1="1205" x2="663.8" y2="1205" stroke="#000" stroke-width="1.0" />
<line x1="597.3" y1="1166" x2="597.3" y2="1312.5" stroke="#000" stroke-width="1.0" />
<path d="M597.3 1170 L600.7 1188 L593.9 1188 Z" fill="#000"/>
<path d="M597.3 1221.7 L593.9 1203.7 L600.7 1203.7 Z" fill="#000"/>
<line x1="634.3" y1="1166" x2="634.3" y2="1311.5" stroke="#000" stroke-width="1.0" />
<path d="M634.3 1186.3 L630.9 1168.3 L637.7 1168.3 Z" fill="#000"/>
<path d="M634.3 1205 L637.7 1223 L630.9 1223 Z" fill="#000"/>
<text x="-1420.01 -1408.72 -1374.86 -1363.58" y="594.0" font-size="23.5" text-anchor="middle" transform="rotate(-90) scale(0.92,1)">2–58</text>
<rect x="579.3" y="1276" width="14.3" height="15" rx="0" fill="none" stroke="#000" stroke-width="1.1"/>
<text x="-1419.93 -1408.48 -1397.03 -1385.58 -1374.13 -1362.68" y="631.6" font-size="23.5" text-anchor="middle" transform="rotate(-90) scale(0.92,1)">2–G1/2</text>
<line x1="680.6" y1="1222" x2="680.6" y2="1324.5" stroke="#000" stroke-width="1.0" />
<line x1="741.2" y1="1234" x2="741.2" y2="1276.3" stroke="#000" stroke-width="1.0" />
<line x1="765.9" y1="1210" x2="765.9" y2="1324.5" stroke="#000" stroke-width="1.0" />
<line x1="680.6" y1="1271.1" x2="741.2" y2="1271.1" stroke="#000" stroke-width="1.0" />
<path d="M680.6 1271.1 L698.6 1267.7 L698.6 1274.5 Z" fill="#000"/>
<path d="M741.2 1271.1 L723.2 1274.5 L723.2 1267.7 Z" fill="#000"/>
<text x="767.12 778.53" y="1267.1" font-size="23.5" text-anchor="middle" transform="scale(0.92,1)">69</text>
<line x1="680.6" y1="1319.3" x2="765.9" y2="1319.3" stroke="#000" stroke-width="1.0" />
<path d="M680.6 1319.3 L698.6 1315.9 L698.6 1322.7 Z" fill="#000"/>
<path d="M765.9 1319.3 L747.9 1322.7 L747.9 1315.9 Z" fill="#000"/>
<text x="780.05 791.03" y="1315.6" font-size="23.5" text-anchor="middle" transform="scale(0.92,1)">97</text>
<line x1="741.1" y1="213.7" x2="741.1" y2="1172" stroke="#000" stroke-width="1.0" stroke-dasharray="24.5 7.7 8.4 7.9" stroke-dashoffset="20.2"/>
</svg></body></html>
